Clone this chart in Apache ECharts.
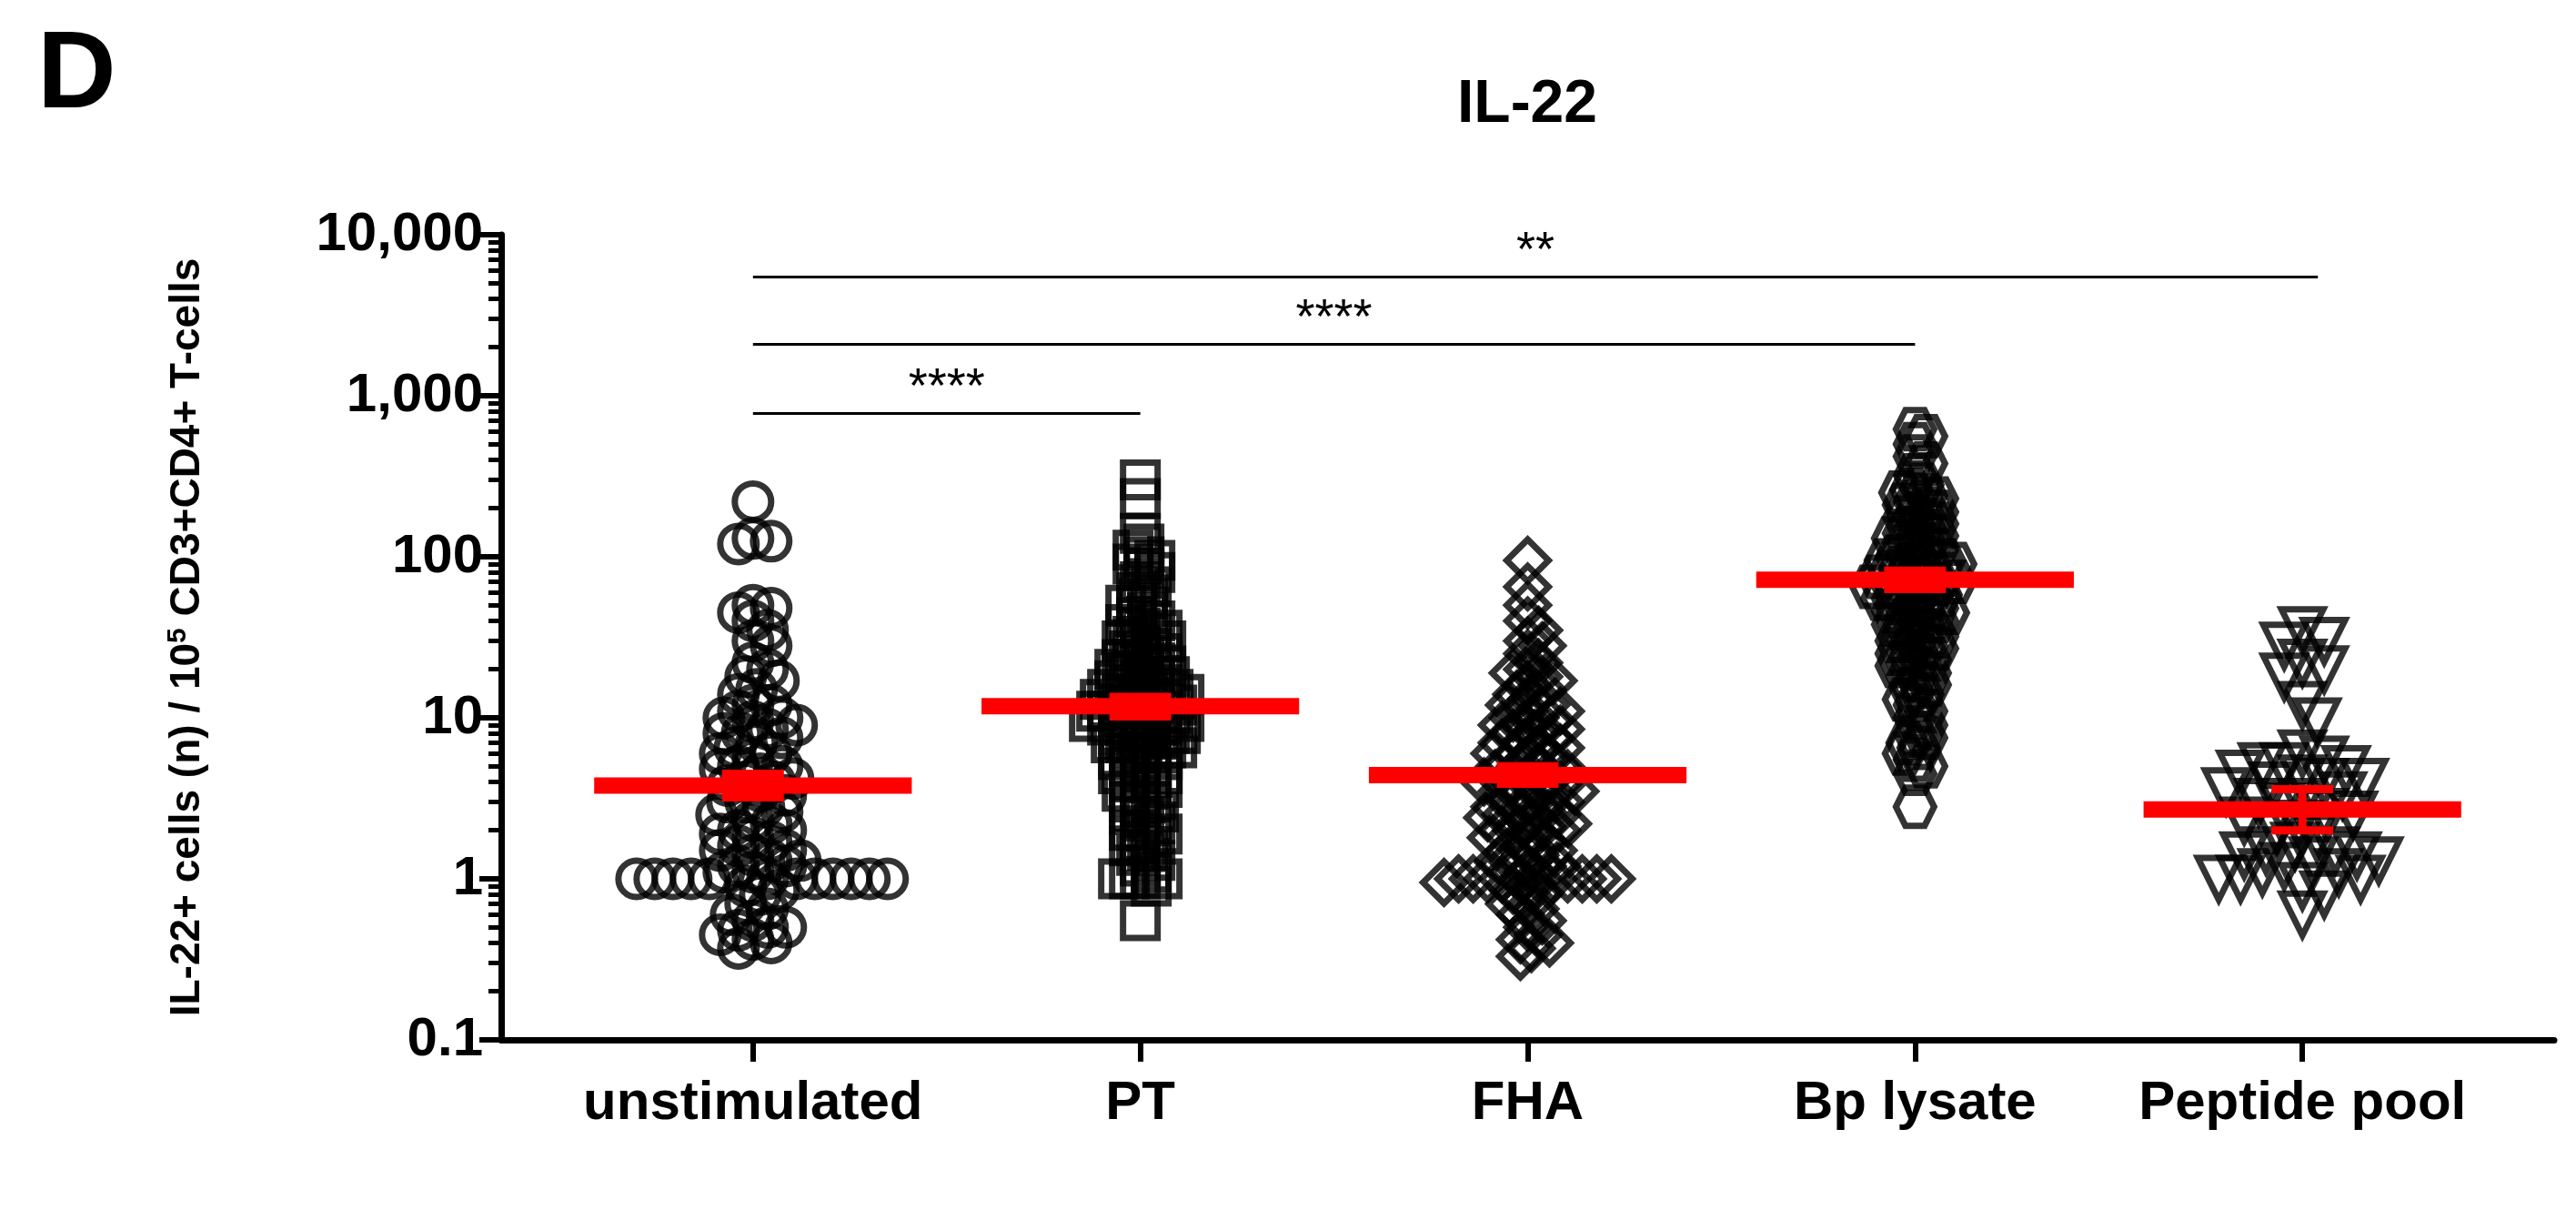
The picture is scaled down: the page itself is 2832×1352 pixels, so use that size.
<!DOCTYPE html>
<html>
<head>
<meta charset="utf-8">
<script src="https://cdn.jsdelivr.net/npm/echarts@6/dist/echarts.min.js"></script>
<style>html,body{margin:0;padding:0;background:#fff}#chart{width:2832px;height:1352px}</style>
</head>
<body>
<div id="chart"></div>
<script>
const categories = ['unstimulated', 'PT', 'FHA', 'Bp lysate', 'Peptide pool'];
const unstimulated = [220,130,120,125,50,48,45,40,35,30,28,22,20,18,17,15,14,12,12,11,10,10,9.5,9,8.5,8,8,7.5,7,6.5,6,6,5.5,5,5,4.8,4.5,4.2,4,4,3.8,3.5,3.3,3,3,2.8,2.6,2.5,2.3,2.2,2,2,1.9,1.8,1.7,1.6,1.5,1.5,1.4,1.3,1.3,1.2,1.2,1.1,1.1,1,1,1,1,1,1,1,1,1,1,1,1,0.9,0.85,0.8,0.7,0.65,0.6,0.55,0.5,0.5,0.48,0.45,0.42,0.4,0.37];
const pt = [300,230,140,120,110,100,95,90,85,80,70,65,60,55,50,50,45,42,40,38,36,35,33,32,30,30,28,27,26,25,24,23,22,22,21,20,20,19,18,18,17,17,16,16,15,15,15,14,14,14,13,13,13,12,12,12,12,11,11,11,11,10,10,10,10,9.5,9.5,9,9,9,8.5,8.5,8,8,8,7.5,7.5,7,7,7,6.5,6.5,6,6,6,5.5,5.5,5,5,5,4.5,4.5,4,4,4,3.7,3.5,3.3,3,3,2.8,2.6,2.5,2.4,2.2,2,2,1.9,1.8,1.7,1.6,1.5,1.4,1.3,1.2,1.1,1,1,1,1,0.9,0.55];
const fha = [95,65,50,40,35,30,28,25,22,20,19,18,17,16,15,14,13,12,12,11,11,10,10,9.5,9,9,8.5,8,8,7.5,7,7,6.5,6.5,6,6,5.5,5.5,5,5,5,4.7,4.5,4.5,4.2,4,4,4,3.8,3.6,3.5,3.5,3.3,3.2,3,3,3,2.8,2.7,2.6,2.5,2.5,2.4,2.3,2.2,2.1,2,2,2,1.9,1.8,1.7,1.6,1.5,1.5,1.4,1.3,1.3,1.2,1.2,1.1,1.1,1,1,1,1,1,1,1,1,1,1,0.95,0.9,0.85,0.8,0.75,0.7,0.65,0.6,0.55,0.5,0.45,0.42,0.4,0.37,0.33];
const bpLysate = [620,560,500,420,380,320,280,260,250,240,230,220,210,200,190,180,175,170,160,150,145,140,135,130,125,120,115,110,105,100,100,95,95,90,90,85,85,80,80,78,75,75,72,70,70,68,65,65,62,60,60,58,55,55,52,50,50,48,46,45,44,42,40,40,38,36,35,34,32,30,30,28,27,26,25,24,23,22,21,20,19,18,17,16,15,14,13,12,11,10,9,8,7.5,7,6.5,6,5.5,5,4.5,2.8];
const peptidePool = [35,30,28,22,20,18,12,9.5,6,5.5,5,5,4.8,4.5,4.2,4,4,3.8,3.5,3.3,3,3,2.8,2.6,2.5,2.3,2.2,2,1.8,1.6,1.5,1.5,1.4,1.4,1.3,1.3,1.2,1.1,1.1,1,1,1,0.9,0.8,0.6];
const centers = [3.8, 11.8, 4.4, 72, 2.7];
const errLow = [3.2, 10.2, 3.9, 63, 2.0];
const errHigh = [4.5, 13.5, 5.0, 82, 3.6];
const yTicks = [0.1, 1, 10, 100, 1000, 10000];
const yTickLabels = ['0.1', '1', '10', '100', '1,000', '10,000'];
const comparisons = [ // [from, to, y, label]
  [0, 1, 775, '****'],
  [0, 3, 2090, '****'],
  [0, 4, 5500, '**']
];

const groups = [unstimulated, pt, fha, bpLysate, peptidePool];
const hexagon = 'path://M25,0 L75,0 L100,50 L75,100 L25,100 L0,50 Z';
const triDown = 'path://M0,0 L100,0 L50,100 Z';
const symbols = ['circle', 'rect', 'diamond', hexagon, triDown];
const sizes = [40, 38, 46, 42, 46];
const minDist = [17, 12, 14, 12, 24];

// simple beeswarm layout (pixel-ish units)
const PX_DECADE = 177, PX_UNIT = 426;
function swarm(vals, d) {
  const placed = [];
  return vals.slice().sort((a, b) => b - a).map(v => {
    const y = Math.log10(v) * PX_DECADE;
    let dx = 0;
    for (let k = 0; k < 200; k++) {
      const cand = (k % 2 ? 1 : -1) * Math.ceil(k / 2) * 4;
      if (placed.every(p => Math.hypot(p[0] - cand, p[1] - y) >= d)) { dx = cand; break; }
    }
    placed.push([dx, y]);
    return [v, dx / PX_UNIT];
  });
}

const series = groups.map((vals, i) => ({
  type: 'scatter',
  symbol: symbols[i],
  symbolSize: sizes[i],
  itemStyle: { color: 'rgba(0,0,0,0)', borderColor: '#000', borderWidth: 7 },
  data: swarm(vals, minDist[i]).map(d => [i + d[1], d[0]]),
  z: 2
}));

series.push({
  type: 'custom',
  z: 5,
  renderItem: function (params, api) {
    const i = params.dataIndex;
    const st = { stroke: '#ff0000', lineWidth: 9 };
    const c = api.coord([i, centers[i]]);
    const l = api.coord([i, errLow[i]]);
    const h = api.coord([i, errHigh[i]]);
    const left = api.coord([i - 0.41, centers[i]]);
    const right = api.coord([i + 0.41, centers[i]]);
    const cw = 34;
    return {
      type: 'group',
      children: [
        { type: 'line', shape: { x1: left[0], y1: c[1], x2: right[0], y2: c[1] }, style: { stroke: '#ff0000', lineWidth: 18 } },
        { type: 'line', shape: { x1: c[0], y1: l[1], x2: c[0], y2: h[1] }, style: st },
        { type: 'line', shape: { x1: c[0] - cw, y1: l[1], x2: c[0] + cw, y2: l[1] }, style: st },
        { type: 'line', shape: { x1: c[0] - cw, y1: h[1], x2: c[0] + cw, y2: h[1] }, style: st }
      ]
    };
  },
  data: centers.map((v, i) => [i, v])
});

series.push({
  type: 'scatter',
  data: [],
  markLine: {
    silent: true,
    symbol: 'none',
    lineStyle: { color: '#000', width: 3, type: 'solid' },
    label: { show: true, position: 'middle', color: '#000', fontSize: 54, fontFamily: 'Liberation Sans', distance: 0 },
    data: comparisons.map(c => [
      { coord: [c[0], c[2]], label: { formatter: c[3] } },
      { coord: [c[1] + (c[1] === 4 ? 0.04 : 0), c[2]] }
    ])
  }
});

const font = 'Liberation Sans';
const chart = echarts.init(document.getElementById('chart'));
chart.setOption({
  animation: false,
  backgroundColor: '#fff',
  title: [
    { text: 'IL-22', left: 1674, top: 78, textAlign: 'center', textStyle: { fontSize: 66, fontWeight: 'bold', fontFamily: font, color: '#000' } },
    { text: 'D', left: 36, top: 20, textStyle: { fontSize: 120, fontWeight: 'bold', fontFamily: font, color: '#000' } }
  ],
  grid: { left: 551, right: 24, top: 258, bottom: 209 },
  xAxis: {
    type: 'value', min: -0.65, max: 4.65,
    splitLine: { show: false },
    axisLine: { onZero: false, lineStyle: { color: '#000', width: 7 } },
    axisTick: { show: true, length: 24, lineStyle: { width: 6, color: '#000' }, customValues: [0, 1, 2, 3, 4] },
    axisLabel: {
      customValues: [0, 1, 2, 3, 4], margin: 40,
      formatter: v => categories[Math.round(v)],
      fontSize: 60, fontWeight: 'bold', fontFamily: font, color: '#000'
    }
  },
  yAxis: {
    type: 'log', logBase: 10, min: 0.1, max: 10000,
    name: '{a|IL-22+ cells (n) / 10}{s|5}{a| CD3+CD4+ T-cells}',
    nameLocation: 'middle', nameGap: 320, nameRotate: 90,
    nameTextStyle: {
      rich: {
        a: { fontSize: 46, fontWeight: 'bold', fontFamily: font, color: '#000' },
        s: { fontSize: 30, fontWeight: 'bold', fontFamily: font, color: '#000', verticalAlign: 'top', padding: [0, 0, 20, 0] }
      }
    },
    splitLine: { show: false },
    axisLine: { show: true, onZero: false, lineStyle: { color: '#000', width: 7 } },
    axisTick: { show: true, length: 24, lineStyle: { width: 6, color: '#000' } },
    minorTick: { show: true, splitNumber: 9, length: 14, lineStyle: { width: 5, color: '#000' } },
    axisLabel: {
      margin: 20, fontSize: 60, fontWeight: 'bold', fontFamily: font, color: '#000',
      formatter: v => { const i = yTicks.findIndex(t => Math.abs(t - v) / t < 1e-6); return i >= 0 ? yTickLabels[i] : ''; }
    }
  },
  series: series
});
</script>
</body>
</html>
